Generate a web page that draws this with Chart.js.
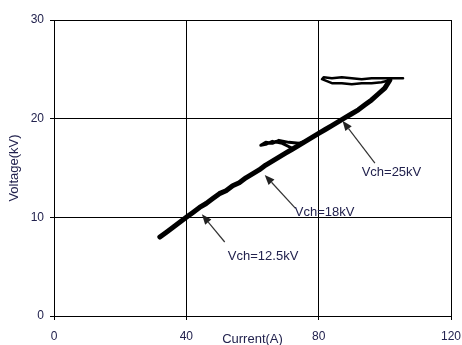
<!DOCTYPE html>
<html>
<head>
<meta charset="utf-8">
<script src="https://cdn.jsdelivr.net/npm/chart.js@4"></script>
<style>
  html, body { margin: 0; padding: 0; background: #fff; }
  #wrap { width: 462px; height: 345px; }
</style>
</head>
<body>
<div id="wrap"><canvas id="c" width="462" height="345"></canvas></div>
<script>
// Charging trace: voltage vs current
const mainCurrent = [32, 34, 36, 38, 40, 42, 44, 46, 48, 50, 52, 54, 56, 58, 60, 62, 64, 66, 68, 70, 72, 74, 76, 78, 80, 82, 84, 86, 88, 90, 92, 94, 96, 98, 100, 101.5];
const mainVoltage = [8.0, 8.5, 9.0, 9.5, 10.0, 10.5, 11.0, 11.4, 11.9, 12.4, 12.7, 13.2, 13.5, 14.0, 14.4, 14.8, 15.3, 15.7, 16.1, 16.5, 16.9, 17.3, 17.7, 18.1, 18.5, 18.9, 19.3, 19.7, 20.1, 20.5, 20.9, 21.4, 21.9, 22.5, 23.1, 23.9];

// Plateau around 18 kV
const plateau18Current = [72, 69, 66, 64, 62.5, 64, 66, 68, 71, 74, 76.5];
const plateau18Voltage = [17.0, 17.5, 17.7, 17.4, 17.3, 17.6, 17.5, 17.8, 17.6, 17.5, 17.8];

// Plateau around 25 kV
const plateau25Current = [101.5, 99, 96, 93, 90, 87, 84, 82.5, 81, 81.5, 84, 87, 90, 93, 96, 99, 102, 105.5];
const plateau25Voltage = [23.9, 23.7, 23.6, 23.6, 23.5, 23.6, 23.6, 23.8, 24.0, 24.2, 24.1, 24.2, 24.1, 24.0, 24.1, 24.1, 24.1, 24.1];

const xTicks = [0, 40, 80, 120];
const yTicks = [0, 10, 20, 30];

const calloutText = ['Vch=25kV', 'Vch=18kV', 'Vch=12.5kV'];

// Callout placement in data units: label centre, arrow tail, arrow tip
const callouts = [
  { label: [102, 14.6], tail: [97, 15.5], tip: [87.2, 19.8] },
  { label: [81.8, 10.5], tail: [73, 10.9], tip: [63.7, 14.3] },
  { label: [63.2, 6.0], tail: [51.6, 7.5], tip: [44.7, 10.3] }
];

const toPoints = (xs, ys) => xs.map((x, i) => ({ x: x, y: ys[i] }));

const TEXT = '#22224e';
const FONT = 'Liberation Sans, Arial, sans-serif';

const calloutPlugin = {
  id: 'callouts',
  afterDatasetsDraw(chart) {
    const ctx = chart.ctx;
    const xs = chart.scales.x, ys = chart.scales.y;
    ctx.save();
    callouts.forEach((c, i) => {
      const tx = xs.getPixelForValue(c.tail[0]), ty = ys.getPixelForValue(c.tail[1]);
      const hx = xs.getPixelForValue(c.tip[0]), hy = ys.getPixelForValue(c.tip[1]);
      const ang = Math.atan2(hy - ty, hx - tx);
      const headLen = 10, headW = 4;
      const bx = hx - headLen * Math.cos(ang), by = hy - headLen * Math.sin(ang);
      ctx.strokeStyle = '#333';
      ctx.lineWidth = 1.2;
      ctx.beginPath();
      ctx.moveTo(tx, ty);
      ctx.lineTo(bx, by);
      ctx.stroke();
      ctx.fillStyle = '#222';
      ctx.beginPath();
      ctx.moveTo(hx, hy);
      ctx.lineTo(bx + headW * Math.sin(ang), by - headW * Math.cos(ang));
      ctx.lineTo(bx - headW * Math.sin(ang), by + headW * Math.cos(ang));
      ctx.closePath();
      ctx.fill();

      ctx.fillStyle = TEXT;
      ctx.font = '13px ' + FONT;
      ctx.textAlign = 'center';
      ctx.textBaseline = 'middle';
      ctx.fillText(calloutText[i], xs.getPixelForValue(c.label[0]), ys.getPixelForValue(c.label[1]));
    });
    ctx.restore();
  }
};

new Chart(document.getElementById('c'), {
  type: 'scatter',
  data: {
    datasets: [
      {
        data: toPoints(mainCurrent, mainVoltage),
        showLine: true,
        borderColor: '#000',
        borderWidth: 5,
        borderCapStyle: 'round',
        borderJoinStyle: 'round',
        pointRadius: 0,
        tension: 0
      },
      {
        data: toPoints(plateau18Current, plateau18Voltage),
        showLine: true,
        borderColor: '#000',
        borderWidth: 3,
        borderCapStyle: 'round',
        borderJoinStyle: 'round',
        pointRadius: 0,
        tension: 0
      },
      {
        data: toPoints(plateau25Current, plateau25Voltage),
        showLine: true,
        borderColor: '#000',
        borderWidth: 2.5,
        borderCapStyle: 'round',
        borderJoinStyle: 'round',
        pointRadius: 0,
        tension: 0
      }
    ]
  },
  options: {
    responsive: false,
    animation: false,
    devicePixelRatio: 1,
    layout: { padding: { top: 20, right: 11, left: 0, bottom: 0 } },
    plugins: { legend: { display: false }, tooltip: { enabled: false } },
    scales: {
      x: {
        type: 'linear',
        min: 0, max: 120,
        afterBuildTicks: s => { s.ticks = xTicks.map(v => ({ value: v })); },
        afterFit: s => { s.height = 29; s.paddingRight = 0; },
        grid: { color: '#000', lineWidth: 1, tickLength: 4, tickColor: '#000', drawTicks: true },
        border: { color: '#000', width: 1 },
        ticks: { color: TEXT, font: { family: FONT, size: 12 }, padding: 9, maxRotation: 0 },
        title: {
          display: true, text: 'Current(A)', color: TEXT,
          font: { family: FONT, size: 13 }, padding: { top: 0, bottom: -2 }
        }
      },
      y: {
        type: 'linear',
        min: 0, max: 30,
        afterBuildTicks: s => { s.ticks = yTicks.map(v => ({ value: v })); },
        afterFit: s => { s.width = 54; },
        grid: { color: '#000', lineWidth: 1, tickLength: 4, tickColor: '#000', drawTicks: true },
        border: { color: '#000', width: 1 },
        ticks: { color: TEXT, font: { family: FONT, size: 12 }, padding: 6 },
        title: {
          display: true, text: 'Voltage(kV)', color: TEXT,
          font: { family: FONT, size: 13 }, padding: { top: 7, bottom: 0 }
        }
      }
    }
  },
  plugins: [calloutPlugin]
});
</script>
</body>
</html>
